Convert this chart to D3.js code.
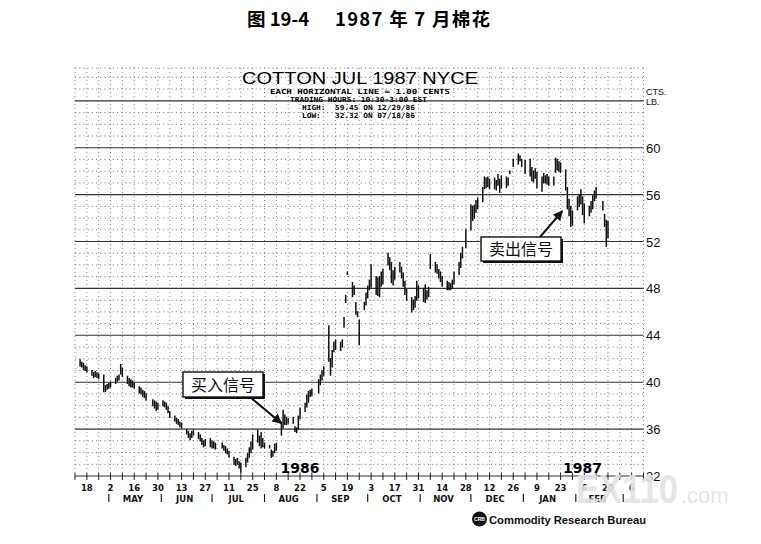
<!DOCTYPE html>
<html><head><meta charset="utf-8">
<script src="https://cdn.jsdelivr.net/npm/d3@7"></script>
<style>body{margin:0;background:#fff}</style>
</head><body>
<svg id="c" width="761" height="544"></svg>
<script>
// ---------- data ----------
const firstMonday = "1986-04-14";
// daily highs / lows, one row per week (Mon..Fri), null = no trading
const highs = [
 [41.9,41.7,41.6,41.4,41.3],[41.0,40.8,40.9,40.8,40.7],[40.6,39.7,39.8,39.9,40.0],
 [40.3,40.5,40.6,41.5,41.2],[40.5,40.3,40.2,40.1,39.9],[39.6,39.5,39.3,39.2,39.0],
 [null,38.5,38.4,38.3,38.2],[38.4,38.3,38.2,37.9,37.5],[37.1,36.9,36.8,36.6,36.5],
 [36.0,35.8,35.6,35.8,35.9],[35.7,35.5,35.2,35.0,35.1],[35.2,35.0,34.9,34.8,null],
 [34.8,34.6,34.5,34.3,34.1],[33.6,33.4,33.5,33.2,33.1],[33.5,33.9,34.4,34.9,35.5],
 [35.9,35.4,35.7,35.2,34.8],[34.6,34.2,34.1,34.7,34.8],[36.6,37.6,37.2,37.0,36.9],
 [37.0,36.2,36.1,37.1,37.8],[38.2,38.9,39.2,39.3,39.4],[null,40.2,40.6,41.0,41.3],
 [44.8,42.0,42.7,43.4,43.6],[43.4,43.6,45.5,47.4,49.4],[48.5,48.2,46.8,46.0,45.3],
 [46.8,47.6,48.2,48.7,50.0],[49.0,48.9,49.0,49.4,49.6],[51.0,50.6,50.2,49.5,49.8],
 [50.2,49.8,49.3,48.6,47.9],[47.2,47.0,47.3,48.6,48.2],[48.0,48.3,47.8,48.1,50.9],
 [50.2,50.0,49.6,49.4,49.0],[48.6,48.5,48.4,48.7,49.4],[50.2,51.0,51.5,null,53.0],
 [55.1,55.0,55.1,55.5,55.7],[56.6,57.5,57.4,57.5,57.3],[57.4,57.2,57.7,57.3,57.6],
 [57.5,57.4,58.0,null,59.0],[59.45,59.3,59.0,null,58.9],[59.0,58.3,58.0,58.2,57.9],
 [57.5,57.8,57.6,57.7,57.5],[57.5,59.1,59.0,58.8,58.7],[58.1,56.6,55.6,55.0,54.6],
 [55.8,56.0,56.4,55.8,55.2],[55.0,55.4,55.9,56.3,56.6],[null,55.4,54.3,53.8,53.7]
];
const lows = [
 [41.4,41.3,41.1,41.0,40.9],[40.6,40.4,40.5,40.4,40.3],[39.2,39.2,39.4,39.5,39.6],
 [39.9,40.1,40.2,40.7,40.5],[39.9,39.7,39.6,39.6,39.5],[39.1,39.0,38.8,38.7,38.5],
 [null,38.0,37.8,37.6,37.7],[38.0,37.9,37.7,37.4,37.0],[36.7,36.5,36.4,36.2,36.1],
 [35.6,35.3,35.1,35.3,35.5],[35.2,35.0,34.7,34.5,34.6],[34.5,34.4,34.4,34.3,null],
 [34.4,34.2,34.0,33.9,33.6],[33.0,32.9,33.0,32.7,32.32],[32.8,33.2,33.6,34.0,34.3],
 [34.9,34.6,34.4,34.5,34.4],[34.4,33.6,33.7,34.0,34.2],[35.5,36.1,36.4,36.4,36.5],
 [36.5,35.8,35.7,36.0,36.9],[37.5,37.9,38.3,38.8,38.9],[null,39.1,39.8,40.2,40.6],
 [41.8,40.6,41.3,42.6,42.8],[42.7,43.0,44.7,46.8,49.2],[47.3,47.5,45.8,45.6,43.2],
 [46.2,46.6,47.2,47.9,48.1],[47.5,47.4,47.3,48.2,48.4],[50.0,49.6,48.5,48.3,48.8],
 [49.4,48.9,48.2,47.5,47.0],[46.0,46.2,46.4,47.0,47.2],[46.9,46.8,47.1,47.3,49.7],
 [49.4,49.3,48.9,48.6,48.2],[47.9,47.9,47.9,48.0,48.4],[49.2,49.8,50.6,null,51.5],
 [53.0,53.8,54.0,54.5,54.8],[55.4,56.5,56.6,56.7,56.5],[56.5,56.4,56.8,56.2,56.6],
 [56.6,56.8,57.8,null,58.4],[58.6,58.9,58.4,null,57.8],[57.6,57.2,57.1,57.4,56.6],
 [56.3,57.0,57.0,56.9,56.8],[56.8,57.9,58.1,58.0,57.9],[56.4,54.8,54.2,53.3,53.4],
 [54.7,55.0,55.2,54.3,53.6],[54.2,54.5,54.8,55.5,55.7],[null,54.7,53.3,51.6,52.3]
];
const priceLabels = [60,56,52,48,44,40,36,32];
const monthNames = ["MAY","JUN","JUL","AUG","SEP","OCT","NOV","DEC","JAN","FEB"];
const monthStarts = ["1986-05-01","1986-06-01","1986-07-01","1986-08-01","1986-09-01","1986-10-01",
  "1986-11-01","1986-12-01","1987-01-01","1987-02-01","1987-03-01"];
const headerLines = ["EACH HORIZONTAL LINE = 1.00 CENTS","TRADING HOURS: 10:30-3:00 EST",
  "HIGH:  59.45 ON 12/29/86","LOW:   32.32 ON 07/18/86"];

// ---------- drawing ----------
const P = d3.timeParse("%Y-%m-%d");
const svg = d3.select("#c");
const x = d3.scaleTime().domain([P("1986-04-11"), P("1987-03-13")]).range([75, 643.5]);
const y = d3.scaleLinear().domain([32, 66.8]).range([476, 68]);

// Chinese title
const tt = svg.append("g").attr("font-family","'Noto Sans CJK SC'").attr("font-weight","bold").attr("font-size",18.5);
tt.append("text").attr("x",247).attr("y",26).text("图 19-4");
tt.append("text").attr("x",335).attr("y",26).attr("textLength",155).attr("lengthAdjust","spacing")
  .text("1987 年 7 月棉花");

// grid
const g = svg.append("g");
const fridays = d3.timeFriday.range(P("1986-04-11"), d3.timeDay.offset(P("1987-03-13"),1));
g.selectAll(".vg").data(fridays).join("line")
  .attr("x1",d=>x(d)).attr("x2",d=>x(d)).attr("y1",y(66.8)).attr("y2",480)
  .attr("stroke","#777").attr("stroke-width",0.9).attr("stroke-dasharray","1,3");
const minor = d3.range(33,67).filter(v=>v%4!==0);
g.selectAll(".hm").data(minor.concat([66.8])).join("line")
  .attr("x1",75).attr("x2",643.5).attr("y1",d=>y(d)).attr("y2",d=>y(d))
  .attr("stroke","#777").attr("stroke-width",0.9).attr("stroke-dasharray","1.2,3");
g.selectAll(".hM").data(d3.range(32,65,4)).join("line")
  .attr("x1",75).attr("x2",643.5).attr("y1",d=>y(d)).attr("y2",d=>y(d))
  .attr("stroke","#333").attr("stroke-width",1.1);
// small ticks at bottom
g.selectAll(".bt").data(fridays).join("line")
  .attr("x1",d=>x(d)).attr("x2",d=>x(d)).attr("y1",473).attr("y2",480)
  .attr("stroke","#222").attr("stroke-width",1);

// header texts
svg.append("text").attr("x",242).attr("y",84).attr("textLength",236).attr("lengthAdjust","spacingAndGlyphs")
  .attr("font-family","'Liberation Sans'").attr("font-size",16.5).text("COTTON JUL 1987 NYCE");
const hdr = [{x:270,y:94,w:180},{x:290,y:102,w:137},{x:302,y:110,w:113},{x:302,y:118,w:113}];
headerLines.forEach((t,i)=>{
  svg.append("text").attr("x",hdr[i].x).attr("y",hdr[i].y).attr("textLength",hdr[i].w)
    .attr("lengthAdjust","spacingAndGlyphs").attr("font-family","'DejaVu Sans Mono'")
    .attr("font-weight","bold").attr("font-size",7).attr("xml:space","preserve").text(t);
});

// bars
const bars = [];
highs.forEach((wk,k)=>wk.forEach((h,d)=>{
  const l = lows[k][d];
  if (h==null || l==null) return;
  bars.push({date:d3.timeDay.offset(P(firstMonday), k*7+d), h, l});
}));
svg.append("g").selectAll("line").data(bars).join("line")
  .attr("x1",d=>x(d.date)).attr("x2",d=>x(d.date))
  .attr("y1",d=>y(d.h)-0.6).attr("y2",d=>y(d.l)+0.6)
  .attr("stroke","#111").attr("stroke-width",1.5);

// right axis labels
const ra = svg.append("g").attr("font-family","'Liberation Sans'").attr("fill","#111");
ra.append("text").attr("x",646).attr("y",95).attr("font-size",9).text("CTS.");
ra.append("text").attr("x",646).attr("y",105).attr("font-size",9).text("LB.");
ra.selectAll(".pl").data(priceLabels).join("text")
  .attr("x",646).attr("y",d=>y(d)+5).attr("font-size",13).text(d=>d);

// bottom axis labels
const tickDays = fridays.filter((d,i)=>i%2===1);
const ba = svg.append("g").attr("font-family","'DejaVu Sans'").attr("font-weight","bold").attr("fill","#111");
ba.selectAll(".tl").data(tickDays).join("text")
  .attr("x",d=>x(d)).attr("y",491).attr("text-anchor","middle").attr("font-size",8.5)
  .text(d3.timeFormat("%-d"));
const ms = monthStarts.map(P);
ba.selectAll(".sep").data(ms).join("line")
  .attr("x1",d=>x(d)).attr("x2",d=>x(d)).attr("y1",494).attr("y2",502)
  .attr("stroke","#111").attr("stroke-width",1.1);
ba.selectAll(".mn").data(monthNames).join("text")
  .attr("x",(d,i)=>(x(ms[i])+x(ms[i+1]))/2-2).attr("y",502).attr("text-anchor","middle")
  .attr("font-size",8.5).text(d=>d);

// year labels
svg.append("text").attr("x",x(P("1986-08-22"))).attr("y",473).attr("text-anchor","middle")
  .attr("font-family","'DejaVu Sans'").attr("font-weight","bold").attr("font-size",14).text("1986");
svg.append("text").attr("x",x(P("1987-02-05"))).attr("y",473).attr("text-anchor","middle")
  .attr("font-family","'DejaVu Sans'").attr("font-weight","bold").attr("font-size",14).text("1987");

// annotations
const defs = svg.append("defs");
defs.append("marker").attr("id","ah").attr("viewBox","0 0 10 10").attr("refX",9).attr("refY",5)
  .attr("markerWidth",5).attr("markerHeight",5).attr("orient","auto")
  .append("path").attr("d","M0,0L10,5L0,10z").attr("fill","#111");
function note(bx,by,bw,bh,label,fx,fy,tx,ty){
  svg.append("line").attr("x1",fx).attr("y1",fy).attr("x2",tx).attr("y2",ty)
    .attr("stroke","#111").attr("stroke-width",2).attr("marker-end","url(#ah)");
  svg.append("rect").attr("x",bx+2).attr("y",by+2).attr("width",bw).attr("height",bh).attr("fill","#111");
  svg.append("rect").attr("x",bx).attr("y",by).attr("width",bw).attr("height",bh)
    .attr("fill","#fff").attr("stroke","#111").attr("stroke-width",1.4);
  svg.append("text").attr("x",bx+bw/2).attr("y",by+bh/2+6).attr("text-anchor","middle")
    .attr("font-family","'Noto Sans CJK SC'").attr("font-size",16).attr("fill","#111").text(label);
}
note(183,372,80,25,"买入信号",250,397,x(P("1986-08-11")),y(36.5));
note(481,237,80,24,"卖出信号",540,237,x(P("1987-01-24")),y(54.6));

// CRB logo
svg.append("circle").attr("cx",479.5).attr("cy",519).attr("r",7.5).attr("fill","#111");
svg.append("text").attr("x",479.5).attr("y",521).attr("text-anchor","middle").attr("font-size",5)
  .attr("font-family","'Liberation Sans'").attr("font-weight","bold").attr("fill","#fff").text("CRB");
svg.append("text").attr("x",489).attr("y",523.5).attr("textLength",157).attr("lengthAdjust","spacingAndGlyphs")
  .attr("font-family","'Liberation Sans'").attr("font-weight","bold").attr("font-size",11.5)
  .attr("fill","#111").text("Commodity Research Bureau");

// watermark
svg.append("text").attr("x",576).attr("y",503).attr("textLength",102).attr("lengthAdjust","spacingAndGlyphs")
  .attr("font-family","'Liberation Sans'").attr("font-weight","bold").attr("font-size",40)
  .attr("fill","#e3e3e3").attr("opacity",0.9).text("EX110");
svg.append("text").attr("x",681).attr("y",503).attr("font-family","'Liberation Sans'")
  .attr("font-size",22).attr("fill","#e3e3e3").attr("opacity",0.9).text(".com");
</script>
</body></html>
